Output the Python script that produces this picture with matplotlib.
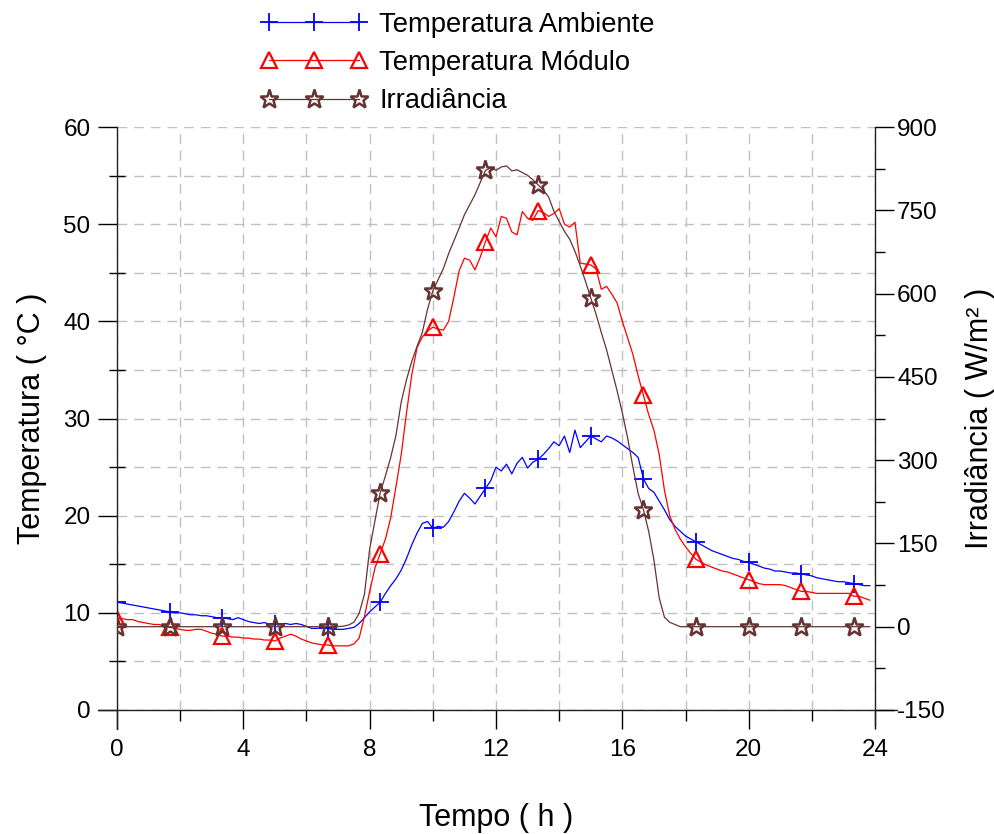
import matplotlib
matplotlib.use('Agg')
import matplotlib.pyplot as plt
from matplotlib.ticker import MultipleLocator
import numpy as np

plt.rcParams['font.family'] = ['Liberation Sans', 'DejaVu Sans']
plt.rcParams['axes.unicode_minus'] = False

# one reading every 10 min, 0 h .. 23.83 h
hours = np.arange(144) / 6.0

temp_ambiente = [
    11.1, 11.0, 10.9, 10.8, 10.7, 10.6, 10.5, 10.4, 10.3, 10.2, 10.1, 10.0,
    10.0, 9.9, 9.8, 9.8, 9.7, 9.7, 9.6, 9.5, 9.5, 9.4, 9.3, 9.5,
    9.3, 9.1, 9.0, 8.9, 9.0, 8.8, 8.8, 8.8, 8.9, 8.8, 8.9, 8.8,
    8.6, 8.4, 8.4, 8.5, 8.4, 8.3, 8.3, 8.3, 8.4, 8.5, 8.9, 9.5,
    10.1, 10.6, 11.1, 12.0, 12.8, 13.5, 14.4, 15.6, 17.0, 18.2, 19.2, 19.4,
    18.7, 18.9, 18.8, 19.4, 20.4, 21.5, 22.3, 21.8, 21.2, 22.0, 22.8, 23.6,
    25.0, 24.6, 25.3, 24.3, 25.4, 26.0, 24.9, 25.5, 25.8, 26.3, 26.9, 27.6,
    27.2, 28.2, 26.5, 28.8, 27.0, 27.6, 28.2, 27.9, 27.6, 28.2, 28.0, 27.7,
    27.3, 26.9, 26.5, 26.0, 23.8, 22.8, 22.4, 21.5, 20.6, 19.6, 18.9, 18.4,
    17.9, 17.6, 17.3, 17.0, 16.7, 16.4, 16.2, 16.0, 15.8, 15.6, 15.5, 15.3,
    15.2, 15.0, 14.8, 14.6, 14.5, 14.3, 14.3, 14.2, 14.1, 14.1, 14.0, 13.9,
    13.8, 13.6, 13.5, 13.4, 13.3, 13.2, 13.2, 13.1, 13.0, 12.9, 12.8, 12.8,
]

temp_modulo = [
    9.4, 9.4, 9.3, 9.3, 9.1, 9.0, 8.9, 8.8, 8.8, 8.6, 8.5, 8.4,
    8.3, 8.2, 8.2, 8.3, 8.3, 8.1, 7.9, 7.8, 7.6, 7.6, 7.5, 7.5,
    7.4, 7.4, 7.3, 7.3, 7.2, 7.2, 7.1, 7.4, 7.6, 7.8, 7.6, 7.3,
    7.1, 6.9, 6.8, 6.7, 6.7, 6.6, 6.6, 6.6, 6.6, 6.8, 7.4, 9.6,
    12.2, 14.6, 16.1, 17.6, 19.8, 23.0, 26.3, 30.6, 34.5, 37.3, 38.4, 39.0,
    39.4, 39.2, 39.1, 40.0, 42.5, 45.2, 46.5, 46.3, 45.3, 46.6, 48.2, 49.6,
    48.7, 50.8, 50.6, 49.2, 48.9, 51.3, 50.6, 50.4, 51.4, 51.2, 50.8, 51.1,
    51.6, 50.0, 49.7, 50.2, 46.0, 45.9, 45.8, 45.4, 43.3, 43.6, 42.8, 41.9,
    40.0, 38.3, 36.6, 34.4, 32.4, 30.4, 28.8, 26.3, 22.6, 20.0, 18.6, 17.6,
    16.8, 16.1, 15.5, 15.2, 14.9, 14.7, 14.5, 14.3, 14.2, 14.0, 13.8, 13.6,
    13.4, 13.2, 13.0, 12.9, 12.9, 12.9, 12.9, 12.8, 12.6, 12.4, 12.2, 12.2,
    12.1, 12.0, 12.0, 12.0, 12.0, 12.0, 12.0, 12.0, 11.7, 11.7, 11.5, 11.3,
]

irradiancia = [
    0, 0, 0, 0, 0, 0, 0, 0, 0, 0, 0, 0,
    0, 0, 0, 0, 0, 0, 0, 0, 0, 0, 0, 0,
    0, 0, 0, 0, 0, 0, 0, 0, 0, 0, 0, 0,
    0, 0, 0, 0, 0, 0, 0, 1, 3, 8, 24, 58,
    140, 190, 241, 272, 305, 345, 405, 445, 478, 505, 530, 572,
    605, 625, 645, 672, 695, 718, 742, 760, 778, 800, 822, 826,
    822, 828, 830, 821, 823, 818, 813, 805, 796, 786, 774, 748,
    730, 712, 698, 676, 650, 622, 592, 563, 530, 499, 462, 425,
    385, 340, 288, 240, 211, 172, 120, 52, 17, 8, 4, 0,
    0, 0, 0, 0, 0, 0, 0, 0, 0, 0, 0, 0,
    0, 0, 0, 0, 0, 0, 0, 0, 0, 0, 0, 0,
    0, 0, 0, 0, 0, 0, 0, 0, 0, 0, 0, 0,
]

brown = '#663333'

fig = plt.figure(figsize=(9.94, 8.34), dpi=100)
ax = fig.add_axes([0.1177, 0.1487, 0.7626, 0.6990])
ax2 = ax.twinx()

l1, = ax.plot(hours, temp_ambiente, color='blue', lw=0.9, marker='+',
              ms=13, mew=1.3, markevery=10)
l2, = ax.plot(hours, temp_modulo, color='red', lw=0.9, marker='^',
              ms=11, mew=1.6, mfc='none', markevery=10)
l3, = ax2.plot(hours, irradiancia, color=brown, lw=0.9, marker='*',
               ms=14, mew=1.8, mfc='none', mec=brown, markevery=10)

ax.set_xlim(0, 24)
ax.set_ylim(0, 60)
ax2.set_ylim(-150, 900)

ax.xaxis.set_major_locator(MultipleLocator(4))
ax.xaxis.set_minor_locator(MultipleLocator(2))
ax.yaxis.set_major_locator(MultipleLocator(10))
ax.yaxis.set_minor_locator(MultipleLocator(5))
ax2.yaxis.set_major_locator(MultipleLocator(150))
ax2.yaxis.set_minor_locator(MultipleLocator(75))

ax.grid(which='both', color='#c0c0c0', ls=(0, (7, 5)), lw=1.0)
ax.set_axisbelow(True)

ax.tick_params(axis='x', which='major', direction='out', length=14, width=1,
               labelsize=17.5, pad=7)
ax.tick_params(axis='x', which='minor', direction='out', length=8, width=1)
ax.tick_params(axis='y', which='major', direction='out', length=14, width=1,
               labelsize=17.5, pad=5)
ax.tick_params(axis='y', which='minor', direction='inout', length=12, width=1)
ax2.tick_params(axis='y', which='major', direction='out', length=14, width=1,
                labelsize=17.5, pad=2)
ax2.tick_params(axis='y', which='minor', direction='out', length=7, width=1)

for a in (ax, ax2):
    a.spines['top'].set_visible(False)
    for s in a.spines.values():
        s.set_linewidth(1.0)
        s.set_color('#222222')
ax2.spines['left'].set_visible(False)
ax2.spines['bottom'].set_visible(False)
ax.spines['right'].set_visible(False)
ax.spines['left'].set_bounds(-2.0, 60)
ax.spines['bottom'].set_bounds(-0.6, 24.7)
ax2.spines['right'].set_bounds(-177, 900)

ax.set_xlabel('Tempo ( h )', fontsize=22, labelpad=30)
ax.set_ylabel('Temperatura ( °C )', fontsize=22, labelpad=12)
ax2.set_ylabel('Irradiância ( W/m² )', fontsize=22, labelpad=14)

fig.legend([l1, l2, l3],
           ['Temperatura Ambiente', 'Temperatura Módulo', 'Irradiância'],
           loc='upper left', bbox_to_anchor=(0.262, 0.986), frameon=False,
           fontsize=19.7, numpoints=3, handlelength=3.9, handletextpad=0.45,
           labelspacing=0.45, borderpad=0, borderaxespad=0)

fig.savefig('out.png', dpi=100)
